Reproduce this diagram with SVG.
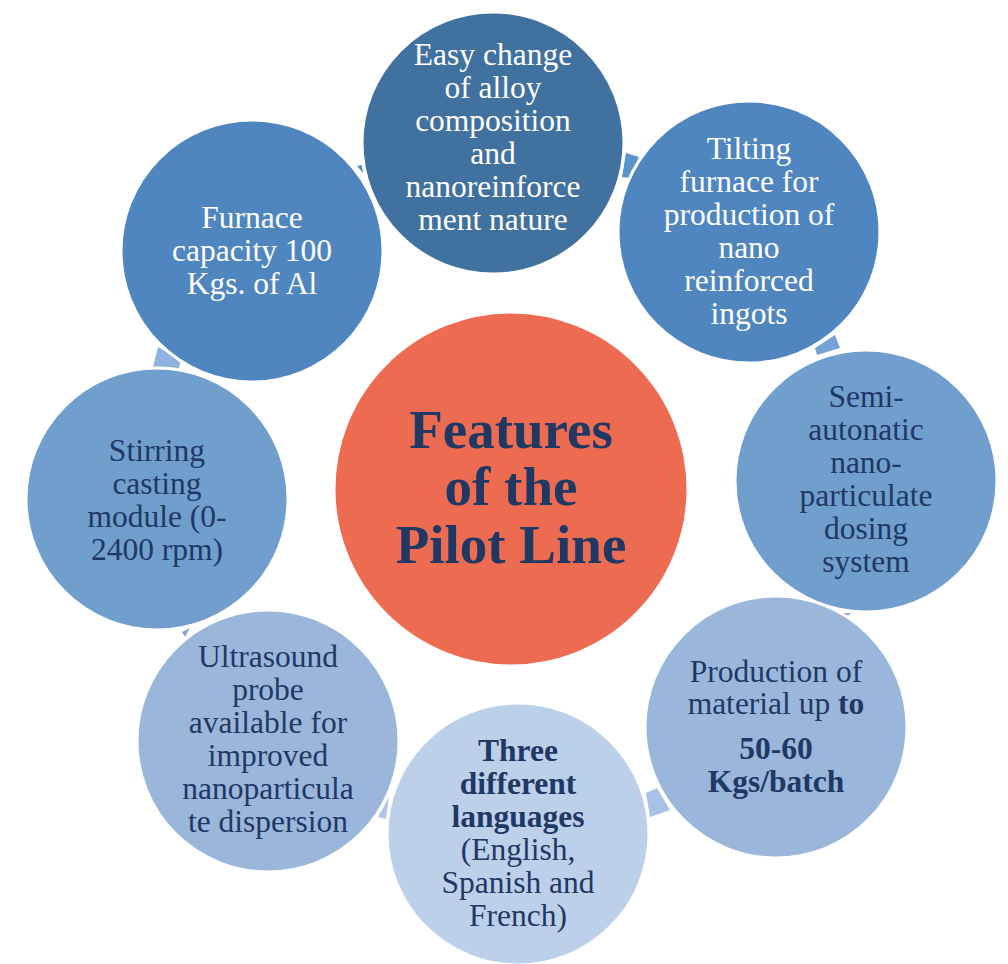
<svg xmlns="http://www.w3.org/2000/svg" width="1008" height="964" viewBox="0 0 1008 964">
<style>
.n{stroke:#fff;stroke-width:3}
.t{font-family:'Liberation Serif','Times New Roman',serif;font-size:31.5px;text-anchor:middle}
.w{fill:#fff}
.d{fill:#1f3864}
.b{font-weight:bold}
.c{font-family:'Liberation Serif','Times New Roman',serif;font-size:55px;font-weight:bold;text-anchor:middle;fill:#1f3864}
</style>
<rect width="1008" height="964" fill="#fff"/>
<g id="connectors">
<polygon points="626,153 639,157 630,178 622,177" fill="#5b93cc"/>
<polygon points="815,348 835,335 840,348 817,355" fill="#76a3d3"/>
<polygon points="842,613 851,613 847,617" fill="#88addb"/>
<polygon points="646,793 657,788 670,810 650,817" fill="#a8c0e3"/>
<polygon points="378,817 389,797 386,819" fill="#afc6e6"/>
<polygon points="182,632 190,628 185,637" fill="#86aad8"/>
<polygon points="158,347 181,360 179,368 153,367" fill="#8fb2de"/>
<polygon points="357,166 362,165 363,173" fill="#5a8fc6"/>
</g>
<g id="node-center"><circle class="n" cx="511" cy="489" r="177" fill="#ed6b51"/>
<text class="c" x="511" y="448">Features</text><text class="c" x="511" y="505">of the</text><text class="c" x="511" y="563">Pilot Line</text></g>
<g id="node-top"><circle class="n" cx="493" cy="143" r="131" fill="#41719f"/>
<text class="t w"><tspan x="493" y="65">Easy change</tspan><tspan x="493" y="98">of alloy</tspan><tspan x="493" y="131">composition</tspan><tspan x="493" y="164">and</tspan><tspan x="493" y="197">nanoreinforce</tspan><tspan x="493" y="230">ment nature</tspan></text></g>
<g id="node-top-right"><circle class="n" cx="749" cy="232" r="131" fill="#4f86bf"/>
<text class="t w"><tspan x="749" y="159">Tilting</tspan><tspan x="749" y="192">furnace for</tspan><tspan x="749" y="225">production of</tspan><tspan x="749" y="258">nano</tspan><tspan x="749" y="291">reinforced</tspan><tspan x="749" y="324">ingots</tspan></text></g>
<g id="node-right"><circle class="n" cx="866" cy="481" r="131" fill="#709ecd"/>
<text class="t d"><tspan x="866" y="407">Semi-</tspan><tspan x="866" y="440">autonatic</tspan><tspan x="866" y="473">nano-</tspan><tspan x="866" y="506">particulate</tspan><tspan x="866" y="539">dosing</tspan><tspan x="866" y="572">system</tspan></text></g>
<g id="node-bottom-right"><circle class="n" cx="776" cy="727" r="131" fill="#9ab6db"/>
<text class="t d"><tspan x="776" y="682">Production of</tspan><tspan x="776" y="714">material up <tspan class="b">to</tspan></tspan><tspan class="b" x="776" y="759">50-60</tspan><tspan class="b" x="776" y="792">Kgs/batch</tspan></text></g>
<g id="node-bottom"><circle class="n" cx="518" cy="834" r="131" fill="#bcd0ea"/>
<text class="t d"><tspan class="b" x="518" y="761">Three</tspan><tspan class="b" x="518" y="794">different</tspan><tspan class="b" x="518" y="827">languages</tspan><tspan x="518" y="860">(English,</tspan><tspan x="518" y="893">Spanish and</tspan><tspan x="518" y="926">French)</tspan></text></g>
<g id="node-bottom-left"><circle class="n" cx="268" cy="741" r="131" fill="#9ab6db"/>
<text class="t d"><tspan x="268" y="667">Ultrasound</tspan><tspan x="268" y="700">probe</tspan><tspan x="268" y="733">available for</tspan><tspan x="268" y="766">improved</tspan><tspan x="268" y="799">nanoparticula</tspan><tspan x="268" y="832">te dispersion</tspan></text></g>
<g id="node-left"><circle class="n" cx="157" cy="499" r="131" fill="#709ecd"/>
<text class="t d"><tspan x="157" y="461">Stirring</tspan><tspan x="157" y="494">casting</tspan><tspan x="157" y="527">module (0-</tspan><tspan x="157" y="560">2400 rpm)</tspan></text></g>
<g id="node-top-left"><circle class="n" cx="252" cy="251" r="131" fill="#4f86bf"/>
<text class="t w"><tspan x="252" y="228">Furnace</tspan><tspan x="252" y="261">capacity 100</tspan><tspan x="252" y="294">Kgs. of Al</tspan></text></g>
</svg>
